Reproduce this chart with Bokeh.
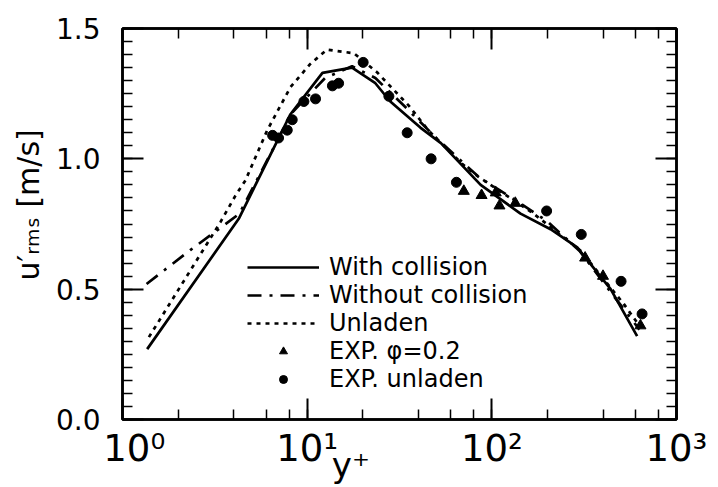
import math
from bokeh.plotting import figure
from bokeh.models import (LogAxis, LinearAxis, SingleIntervalTicker, LogTicker, Legend,
                          LegendItem, Range1d, CustomJSTickFormatter)
from bokeh.embed import file_html
from bokeh.resources import INLINE

# ---- data ----
with_x = [1.36, 4.26, 6.9, 8.1, 12.1, 17.5, 23.4, 28.2, 41, 53, 87, 143, 208, 290, 440, 612]
with_y = [0.27, 0.77, 1.07, 1.17, 1.33, 1.35, 1.29, 1.22, 1.12, 1.06, 0.90, 0.79, 0.73, 0.66, 0.50, 0.32]

without_x = [1.35, 2.33, 3.54, 4.3, 6.9, 8.1, 12.5, 17.5, 23.4, 35, 50, 85, 142, 200, 300, 450, 630]
without_y = [0.52, 0.65, 0.745, 0.79, 1.07, 1.17, 1.31, 1.355, 1.31, 1.19, 1.08, 0.93, 0.83, 0.76, 0.645, 0.48, 0.345]

unladen_x = [1.39, 3.39, 4.09, 4.63, 6.07, 8.12, 10.4, 12.8, 17.9, 23.9, 35.5, 45.5, 69, 85, 168, 302, 516, 638]
unladen_y = [0.316, 0.757, 0.859, 0.917, 1.109, 1.275, 1.364, 1.419, 1.405, 1.332, 1.204, 1.108, 0.981, 0.930, 0.79, 0.648, 0.445, 0.354]

exp_phi_x = [70.5, 88, 105, 110, 134, 320, 400, 638]
exp_phi_y = [0.876, 0.86, 0.87, 0.82, 0.83, 0.62, 0.55, 0.36]

exp_unl_x = [6.5, 7.0, 7.8, 8.3, 9.6, 11.1, 13.7, 14.8, 20.1, 27.7, 34.8, 46.9, 64.3, 198, 305, 501, 651]
exp_unl_y = [1.09, 1.08, 1.11, 1.15, 1.22, 1.23, 1.28, 1.29, 1.37, 1.24, 1.10, 1.00, 0.91, 0.80, 0.71, 0.53, 0.405]

NB = "\u00a0"
x_tick_values = [1, 10, 100, 1000]
x_tick_labels = [NB * 2 + "10\u2070", "10\u00b9", "10\u00b2", "10\u00b3"]
y_tick_values = [0.0, 0.5, 1.0, 1.5]
y_tick_labels = ["0.0", "0.5", "1.0", "1.5"]
legend_labels = ["With collision", "Without collision", "Unladen", "EXP. \u03c6=0.2", "EXP. unladen"]
x_label = "y\u207a"
y_label = "u\u2032\u1d63\u2098\u209b [m/s]"

FONT = "DejaVu Sans"

p = figure(width=718, height=487, x_axis_type="log",
           x_range=Range1d(1, 1000), y_range=Range1d(0, 1.5),
           output_backend="svg", toolbar_location=None,
           min_border_left=122, min_border_right=42, min_border_top=28, min_border_bottom=68)
p.grid.visible = False
p.outline_line_color = "black"
p.outline_line_width = 2.5
p.background_fill_color = "white"
p.border_fill_color = "white"

p.yaxis.ticker = SingleIntervalTicker(interval=0.5, num_minor_ticks=10)
p.xaxis.ticker = LogTicker()
p.xaxis.major_label_overrides = {v: t for v, t in zip(x_tick_values, x_tick_labels)}
p.yaxis.major_label_overrides = {v: t for v, t in zip(y_tick_values, y_tick_labels)}

def style_axis(ax):
    ax.axis_line_width = 2.5
    ax.axis_line_color = "black"
    ax.major_tick_in = 21
    ax.major_tick_out = 0
    ax.minor_tick_in = 10
    ax.minor_tick_out = 0
    ax.major_tick_line_width = 2
    ax.minor_tick_line_width = 1.5
    ax.major_label_text_font = FONT
    ax.major_label_text_color = "black"

for ax in [p.xaxis[0], p.yaxis[0]]:
    style_axis(ax)
p.xaxis.major_label_text_font_size = "37px"
p.xaxis.major_label_standoff = 7
p.yaxis.major_label_text_font_size = "28px"
p.yaxis.major_label_standoff = 22

# axis titles (non-breaking spaces shift the visible text off-centre as in the reference)
p.xaxis.axis_label = x_label + NB * 9
p.xaxis.axis_label_text_font = FONT
p.xaxis.axis_label_text_font_size = "34px"
p.xaxis.axis_label_text_font_style = "normal"
p.xaxis.axis_label_text_color = "black"
p.xaxis.axis_label_standoff = -28

p.yaxis.axis_label = NB * 4 + y_label
p.yaxis.axis_label_text_font = FONT
p.yaxis.axis_label_text_font_size = "30px"
p.yaxis.axis_label_text_font_style = "normal"
p.yaxis.axis_label_text_color = "black"
p.yaxis.axis_label_standoff = 7

top = LogAxis(ticker=LogTicker(), formatter=CustomJSTickFormatter(code="return ''"))
right = LinearAxis(ticker=SingleIntervalTicker(interval=0.5, num_minor_ticks=10),
                   formatter=CustomJSTickFormatter(code="return ''"))
for ax in [top, right]:
    style_axis(ax)
    ax.major_label_standoff = 0
    ax.major_label_text_font_size = "1px"
p.add_layout(top, "above")
p.add_layout(right, "right")

r1 = p.line(with_x, with_y, line_color="black", line_width=2.7)
r2 = p.line(without_x, without_y, line_color="black", line_width=2.7, line_dash="14 8 3 8")
r3 = p.line(unladen_x, unladen_y, line_color="black", line_width=2.7, line_dash="4 5")
r4 = p.scatter(exp_phi_x, exp_phi_y, marker="triangle", size=11, fill_color="black", line_color="black")
r5 = p.scatter(exp_unl_x, exp_unl_y, marker="circle", size=10, fill_color="black", line_color="black")

legend = Legend(items=[LegendItem(label=l, renderers=[r]) for l, r in zip(legend_labels, [r1, r2, r3, r4, r5])],
                location=(125, 26), orientation="vertical", glyph_width=72, glyph_height=20,
                label_standoff=10, spacing=0, padding=0, margin=0,
                border_line_color=None, background_fill_alpha=0,
                label_text_font=FONT, label_text_font_size="24px", label_height=20,
                label_text_color="black")
p.add_layout(legend)

open("out.html", "w").write(file_html(p, INLINE))
